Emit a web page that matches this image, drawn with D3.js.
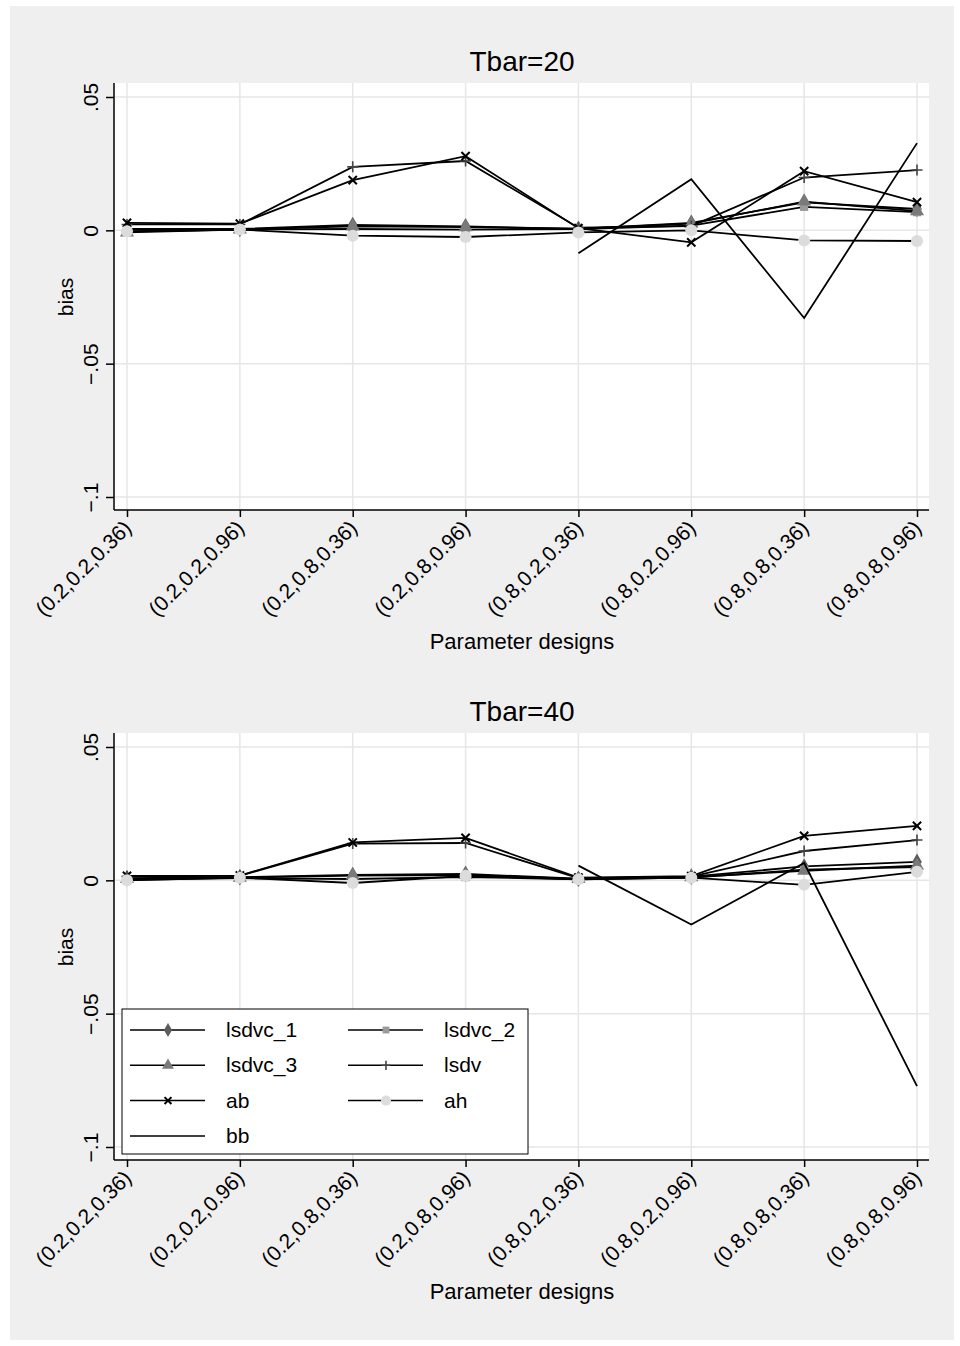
<!DOCTYPE html>
<html lang="en">
<head>
  <meta charset="UTF-8">
  <title>Bias by parameter design</title>
  <style>
    body { margin: 0; background: #fff; }
    text { font-family: "Liberation Sans", Arial, sans-serif; fill: #000; }
  </style>
</head>
<body>
<svg width="960" height="1346" id="viz"></svg>
<script src="https://cdn.jsdelivr.net/npm/d3@7"></script>
<script>
/* global d3 */

// categories and tick labels
const designs = ["(0.2,0.2,0.36)", "(0.2,0.2,0.96)", "(0.2,0.8,0.36)", "(0.2,0.8,0.96)",
  "(0.8,0.2,0.36)", "(0.8,0.2,0.96)", "(0.8,0.8,0.36)", "(0.8,0.8,0.96)"];
const yTicks = [-0.1, -0.05, 0, 0.05];
const yTickLabels = ["\u2212.1", "\u2212.05", "0", ".05"];
const seriesNames = ["lsdvc_1", "lsdvc_2", "lsdvc_3", "lsdv", "ab", "ah", "bb"];

// Tbar=20
const lsdvc1_20 = [0.0005, 0.0005, 0.0020, 0.0015, 0.0005, 0.0028, 0.0105, 0.0080];
const lsdvc2_20 = [-0.0005, 0.0003, 0.0005, 0.0003, 0.0005, 0.0018, 0.0088, 0.0068];
const lsdvc3_20 = [-0.0008, 0.0003, 0.0015, 0.0012, 0.0006, 0.0025, 0.0108, 0.0072];
const lsdv_20 = [0.0022, 0.0022, 0.0238, 0.0260, 0.0010, 0.0016, 0.0198, 0.0226];
const ab_20 = [0.0028, 0.0025, 0.0188, 0.0278, 0.0008, -0.0045, 0.0222, 0.0106];
const ah_20 = [-0.0003, 0.0003, -0.0020, -0.0025, -0.0008, 0.0000, -0.0038, -0.0040];
const bb_20 = [null, null, null, null, -0.0086, 0.0192, -0.0329, 0.0327];

// Tbar=40
const lsdvc1_40 = [0.0008, 0.0012, 0.0020, 0.0024, 0.0006, 0.0014, 0.0052, 0.0069];
const lsdvc2_40 = [0.0002, 0.0008, 0.0005, 0.0012, 0.0004, 0.0010, 0.0040, 0.0050];
const lsdvc3_40 = [0.0005, 0.0010, 0.0018, 0.0020, 0.0005, 0.0012, 0.0036, 0.0055];
const lsdv_40 = [0.0015, 0.0017, 0.0138, 0.0140, 0.0008, 0.0014, 0.0110, 0.0151];
const ab_40 = [0.0017, 0.0018, 0.0142, 0.0159, 0.0010, 0.0016, 0.0167, 0.0204];
const ah_40 = [0.0000, 0.0010, -0.0010, 0.0017, 0.0004, 0.0010, -0.0017, 0.0032];
const bb_40 = [null, null, null, null, 0.0055, -0.0166, 0.0065, -0.0772];

const panels = [
  {title: "Tbar=20", top: 83, series: [lsdvc1_20, lsdvc2_20, lsdvc3_20, lsdv_20, ab_20, ah_20, bb_20], legend: false},
  {title: "Tbar=40", top: 733, series: [lsdvc1_40, lsdvc2_40, lsdvc3_40, lsdv_40, ab_40, ah_40, bb_40], legend: true}
];

// marker look per series
const markers = {
  lsdvc_1: {type: "diamond", color: "#5c5c5c"},
  lsdvc_2: {type: "square", color: "#9a9a9a"},
  lsdvc_3: {type: "triangle", color: "#7a7a7a"},
  lsdv: {type: "plus", color: "#444"},
  ab: {type: "x", color: "#000"},
  ah: {type: "circle", color: "#dcdcdc"},
  bb: {type: "none", color: "#000"}
};

const svg = d3.select("#viz");
const plotLeft = 114, plotRight = 929, plotH = 427;

svg.append("rect").attr("x", 10).attr("y", 6).attr("width", 944).attr("height", 1334)
  .attr("fill", "#efefef");

const x = d3.scalePoint().domain(designs).range([127, 917]);

function drawMarker(g, type, color, cx, cy, s) {
  if (type === "none") return;
  if (type === "plus") {
    g.append("path").attr("d", `M${cx - s},${cy}H${cx + s}M${cx},${cy - s}V${cy + s}`)
      .attr("stroke", color).attr("stroke-width", 1.6);
  } else if (type === "x") {
    const k = s * 0.75;
    g.append("path").attr("d", `M${cx - k},${cy - k}L${cx + k},${cy + k}M${cx - k},${cy + k}L${cx + k},${cy - k}`)
      .attr("stroke", color).attr("stroke-width", 2);
  } else {
    const sym = {diamond: d3.symbolDiamond, square: d3.symbolSquare, triangle: d3.symbolTriangle, circle: d3.symbolCircle}[type];
    const area = {diamond: 1.2, square: 1.0, triangle: 1.3, circle: 1.7}[type] * s * s * 2.2;
    g.append("path").attr("d", d3.symbol(sym, area)())
      .attr("transform", `translate(${cx},${cy})`)
      .attr("fill", color);
  }
}

panels.forEach(p => {
  const y = d3.scaleLinear().domain([-0.1, 0.05]).range([p.top + 414, p.top + 14]);
  const bottom = p.top + plotH;
  const g = svg.append("g");

  g.append("rect").attr("x", plotLeft).attr("y", p.top)
    .attr("width", plotRight - plotLeft).attr("height", plotH).attr("fill", "#fff");

  // grid
  g.selectAll(".hgrid").data(yTicks).enter().append("line")
    .attr("x1", plotLeft).attr("x2", plotRight)
    .attr("y1", d => y(d)).attr("y2", d => y(d))
    .attr("stroke", "#e6e6e6").attr("stroke-width", 1.5);
  g.selectAll(".vgrid").data(designs).enter().append("line")
    .attr("x1", d => x(d)).attr("x2", d => x(d))
    .attr("y1", p.top).attr("y2", bottom)
    .attr("stroke", "#e6e6e6").attr("stroke-width", 1.5);

  // axes
  const yAxis = g.append("g").attr("transform", `translate(${plotLeft},0)`)
    .call(d3.axisLeft(y).tickValues(yTicks).tickFormat((d, i) => yTickLabels[i]).tickSize(8).tickPadding(0));
  yAxis.select(".domain").attr("d", `M0,${p.top}V${bottom}`).attr("stroke-width", 1.5);
  yAxis.selectAll(".tick line").attr("stroke-width", 1.5);
  yAxis.selectAll(".tick text")
    .attr("font-size", 21).attr("text-anchor", "middle")
    .attr("x", 0).attr("dy", 0)
    .attr("transform", "translate(-16,0) rotate(-90)");

  const xAxis = g.append("g").attr("transform", `translate(0,${bottom})`)
    .call(d3.axisBottom(x).tickSize(7).tickPadding(0));
  xAxis.select(".domain").attr("d", `M${plotLeft},0H${plotRight}`).attr("stroke-width", 1.5);
  xAxis.selectAll(".tick line").attr("stroke-width", 1.5);
  xAxis.selectAll(".tick text")
    .attr("font-size", 21).attr("text-anchor", "end")
    .attr("y", 0).attr("dy", "0.35em")
    .attr("transform", "translate(0,14) rotate(-45)");
  g.selectAll(".tick text").attr("font-family", "Liberation Sans, Arial, sans-serif");

  // titles
  g.append("text").attr("x", 522).attr("y", p.top - 12).attr("text-anchor", "middle")
    .attr("font-size", 28).text(p.title);
  g.append("text").attr("x", 522).attr("y", bottom + 139).attr("text-anchor", "middle")
    .attr("font-size", 22).text("Parameter designs");
  g.append("text").attr("transform", `translate(73,${p.top + 214}) rotate(-90)`)
    .attr("text-anchor", "middle").attr("font-size", 21).text("bias");

  // series
  const line = d3.line().defined(d => d.v !== null).x(d => x(d.c)).y(d => y(d.v));
  p.series.forEach((vals, si) => {
    const name = seriesNames[si];
    const pts = vals.map((v, i) => ({c: designs[i], v: v}));
    const sg = g.append("g");
    sg.append("path").datum(pts).attr("d", line)
      .attr("fill", "none").attr("stroke", "#000").attr("stroke-width", 1.8);
    pts.filter(d => d.v !== null).forEach(d =>
      drawMarker(sg, markers[name].type, markers[name].color, x(d.c), y(d.v), 5.5));
  });

  // legend
  if (p.legend) {
    const lg = g.append("g");
    lg.append("rect").attr("x", 122).attr("y", 1009).attr("width", 406).attr("height", 145)
      .attr("fill", "#fff").attr("stroke", "#000").attr("stroke-width", 1);
    seriesNames.forEach((name, i) => {
      const col = i % 2, row = Math.floor(i / 2);
      const lx = col === 0 ? 130 : 348;
      const ly = 1030 + row * 35.3;
      lg.append("line").attr("x1", lx).attr("x2", lx + 75).attr("y1", ly).attr("y2", ly)
        .attr("stroke", "#000").attr("stroke-width", 1.5);
      drawMarker(lg, markers[name].type, markers[name].color, lx + 38, ly, 4.6);
      lg.append("text").attr("x", lx + 96).attr("y", ly + 7).attr("font-size", 21).text(name);
    });
  }
});
</script>
</body>
</html>
